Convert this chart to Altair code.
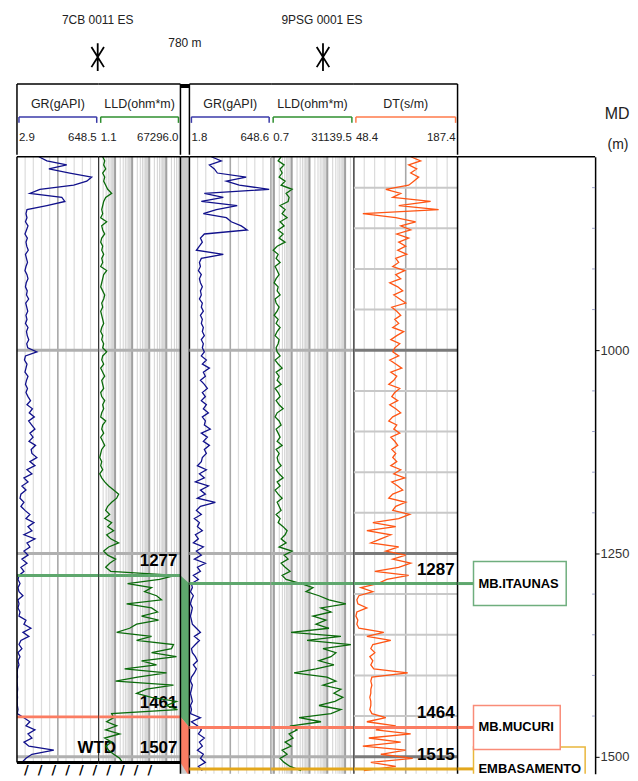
import math
import altair as alt
import pandas as pd

# ---------------- data ----------------
TOP_DEPTH = 762
STEP = 5
BOTTOM_DEPTH = 1521

W1_GR = [176, 239, 396, 255, 420, 593, 554, 451, 184, 105, 357, 381, 239, 82,
         74, 82, 70, 90, 78, 66, 85, 74, 80, 92, 70, 78, 86, 74, 66, 82, 90, 76, 70, 84,
         78, 95, 72, 80, 88, 74, 82, 70, 90, 78, 84, 96, 80, 88,
         160,
         70, 62, 82, 74, 66, 90, 78, 70, 86, 74,
         90, 110, 82, 125, 100, 140, 95, 120, 145, 105, 130, 98, 150, 115,
         121, 160, 105, 145, 82, 121, 58, 90, 42, 74, 34, 27, 58, 34, 66, 105, 74, 137, 90, 121,
         58, 145, 82, 105, 58, 90, 42, 82, 34, 58,
         19, 11, 27, 11, 19, 50, 11, 19, 11, 27, 19, 74, 58, 113, 50, 97, 34, 19, 42, 11, 27, 11, 19,
         7, 5, 7, 4, 6, 8, 5, 7, 5, 6,
         11, 5, 58, 105, 74, 145, 90, 121, 58, 97, 294, 121, 74, 42]

W1_LLD = [1.88, 2.47, 2.15, 2.82, 1.88, 2.47, 2.15, 2.82, 3.69, 6.31, 2.82, 2.15, 1.88,
          1.65, 1.88, 1.44, 3.22, 1.65, 1.88, 2.47, 1.65, 1.44, 1.88, 1.65, 2.15, 1.65, 1.88, 1.44,
          3.22, 2.15, 1.88, 1.65, 1.44, 1.88, 2.47, 2.15, 1.65, 1.88, 1.44, 1.65, 1.88, 2.15, 1.65,
          1.44, 1.88, 1.65, 2.15, 1.88,
          3.22, 1.88, 1.65, 2.15, 1.44, 1.88, 2.47, 1.65, 1.88, 2.15, 1.44, 1.65, 2.47, 1.88, 2.15,
          1.65, 1.44, 2.82, 1.88, 1.65, 2.15, 1.44, 1.88, 2.47, 1.65,
          1.44, 1.26, 1.65, 1.44, 1.88, 1.26, 1.65,
          2.47, 4.22, 8.26, 16.2, 12.4, 6.31, 3.69,
          2.82, 4.83, 2.47, 6.31, 3.69, 8.26, 3.22, 5.52, 16.2, 4.22, 2.15, 3.69, 10.8, 4.83, 2.82, 5.52,
          34500, 4010, 54, 1368, 534, 2680, 5250, 47.5, 1368, 3063, 356, 3508, 182, 71, 12.4, 1368,
          182, 26360, 20140, 1368, 39480, 356, 2680, 36.3, 10280, 208, 10.8, 26360, 698, 182, 1368,
          39480, 10280, 45100, 6.31,
          8.26, 3.22, 12.4, 2.82, 18.5, 2.47, 6.31, 2.82, 4.22, 8.26, 18.5, 27.7]

W2_GR = [175, 254, 160, 199, 223, 451, 294, 396, 633, 120, 270, 96, 380, 215, 112, 294, 333, 412,
         459, 120, 89, 104, 81, 57, 270, 96,
         81, 89, 73, 96, 81, 89, 104, 89, 96, 81, 104, 96, 112, 89, 104, 96, 112, 104, 120, 96, 112, 104,
         120, 96, 136, 104, 160, 112, 128, 89, 120, 144, 104, 128, 96, 136, 112, 152, 104, 128, 120,
         167, 96, 144, 112, 160, 120, 136, 104,
         96, 65, 136, 81, 120, 49, 152, 89, 128, 65, 207, 89,
         57, 96, 41, 81, 65, 104, 49,
         73, 33, 112, 57, 96, 41, 128, 65, 89, 33, 73,
         18, 25, 10, 33, 18, 10, 25, 18, 10, 18, 25, 57, 89, 41, 81, 49, 18, 25, 49, 65, 33, 57, 41,
         18, 10, 25, 18, 10, 18, 25, 10, 18, 10, 89, 18,
         65, 96, 73, 120, 81, 104, 65, 112, 89, 128, 73, 104]

W2_LLD = [2.54, 1.73, 3.74, 2.23, 2.89, 1.96, 4.26, 2.54,
          10.5, 4.84, 7.13,
          6.27, 2.23, 4.26, 2.89, 5.51,
          2.23, 3.74, 1.73, 3.29, 1.96, 4.26,
          1.52, 0.91,
          1.73, 1.33, 2.23, 1.17, 1.52, 1.96, 1.33, 1.03, 1.73, 1.52, 2.23, 1.17, 1.33, 1.96, 1.52,
          1.03, 1.73, 1.33, 2.23, 1.52, 1.17, 1.96, 1.73, 1.33,
          1.52, 2.23, 1.17, 1.73, 2.89, 1.33, 1.96, 1.52, 2.54, 1.17, 1.73, 2.23, 1.33, 1.96, 3.29,
          1.52, 1.17, 1.96, 2.54, 1.33, 1.73, 2.23, 1.52, 2.89, 1.33, 1.96, 1.52,
          1.73, 2.54, 1.33, 1.96, 3.29, 1.52, 2.23, 1.17, 1.73, 2.89, 1.52, 1.96, 2.54, 1.33, 2.23,
          1.73, 3.29, 5.51,
          4.26, 2.54, 4.84, 1.96, 10.5, 3.74, 6.27, 2.54, 4.26, 8.11, 2.89, 4.84,
          33.5, 157, 64, 341, 1239, 11090, 442, 1603, 157, 841, 232, 1239, 9.2, 5820, 73, 21100, 571,
          3055, 1603, 341, 2360, 232, 13.6, 957, 3055, 571, 5820, 2360, 7530, 2690, 341, 5820, 1603,
          25.9, 442,
          9.22, 20.0, 7.13, 11.9, 4.26, 9.22, 2.89, 5.51, 2.23, 3.74, 8.11, 33.5]

W2_DT = [124.6, 137.9, 121.9, 132.6, 124.6, 135.3, 128.6, 121.9, 91.2, 111.2, 100.5, 151.3, 108.5,
         162.0, 60.4, 104.5, 131.3, 111.2, 124.6, 105.9, 121.9, 108.5, 117.9, 107.2, 119.3, 104.5,
         108.5, 100.5, 116.6, 104.5, 111.2, 96.5, 107.2, 113.9, 101.9, 109.9, 117.9, 99.2, 105.9,
         111.2, 103.2, 108.5, 100.5, 115.2, 105.9, 97.9, 109.9, 103.2,
         100.5, 108.5, 96.5, 104.5, 112.6, 97.9, 105.9, 101.9, 95.2, 109.9, 103.2, 99.2, 107.2, 96.5,
         104.5, 111.2, 100.5, 95.2, 105.9, 101.9, 109.9, 97.9, 103.2, 107.2, 99.2, 104.5, 100.5,
         105.9, 97.9, 111.2, 101.9, 116.6, 99.2, 107.2, 113.9, 100.5,
         95.2, 117.9, 104.5, 100.5, 123.2, 108.5,
         73.8, 104.5, 65.8, 97.9, 84.5,
         71.1, 108.5, 91.2,
         117.9, 100.5, 124.6, 108.5,
         76.5, 121.9, 92.5,
         80.5, 57.8, 73.8, 55.1, 52.4, 53.7, 65.8, 52.4, 51.1, 53.7, 52.4, 55.1, 88.5, 65.8, 97.9,
         73.8, 71.1, 76.5, 69.8, 73.8, 71.1, 75.1, 120.6, 72.5, 71.1, 72.5, 71.1, 71.1, 69.8, 71.1,
         71.1, 69.8, 72.5, 91.2, 65.8,
         104.5, 77.8, 124.6, 68.4, 111.2, 60.4, 117.9, 84.5, 127.3, 71.1, 104.5, 61.8]

RANGES = {"w1_gr": (2.9, 648.5), "w1_lld": (1.1, 67296.0), "w2_gr": (1.8, 648.6),
          "w2_lld": (0.7, 31139.5), "w2_dt": (48.4, 187.4)}

WELL_NAMES = ["7CB  0011  ES", "9PSG 0001  ES"]
DISTANCE_TEXT = "780 m"
W1_MARK_DEPTH = [1277, 1451]
W1_MARK_TEXT = ["1277", "1461"]
W1_TD = 1507
W2_MARK_DEPTH = [1287, 1464, 1515]
W2_MARK_TEXT = ["1287", "1464", "1515"]
W2_ZONE_BOTTOM = 1525
MARK_NAMES = ["MB.ITAUNAS", "MB.MUCURI", "EMBASAMENTO"]
MD_MAJOR = [1000, 1250, 1500]
MD_MINOR = [800, 850, 900, 950, 1050, 1100, 1150, 1200, 1300, 1350, 1400, 1450]

# ---------------- style ----------------
FONT = "Liberation Sans, Arial, sans-serif"
C_GR, C_LLD, C_DT = "#12128c", "#0b6b0b", "#ff5514"
C_GR_BR, C_LLD_BR, C_DT_BR = "#3a3aa8", "#2f8f2f", "#ff7a4a"
MARK_COLORS = ["#5ea76d", "#fb7d63", "#e3a71c"]
BOX_COLORS = ["#6fae7e", "#f98c78", "#e9b73c"]
BOX_X2 = [109, 103, 128]
BOX_HALF_M = 27
H = 619
HH = 146
STAR = "M0,-1L0,1M-0.45,-0.72L0.45,0.72M-0.45,0.72L0.45,-0.72"

YS = alt.Scale(domain=[TOP_DEPTH, BOTTOM_DEPTH], reverse=True, nice=False, zero=False)
ONE = pd.DataFrame({"k": [0]})


def ydat(v, ax=None):
    return alt.YDatum(v, type="quantitative", scale=YS, axis=ax)


def vgrid_df(lo, hi, xtype):
    rows = []
    if xtype == "linear":
        for k in range(1, 10):
            rows.append({"v": lo + (hi - lo) * k / 10,
                         "c": "#a8a8a8" if k == 5 else "#dcdcdc",
                         "w": 1.6 if k == 5 else 1.2})
    else:
        for e in range(math.floor(math.log10(lo)), math.ceil(math.log10(hi)) + 1):
            for m in range(1, 10):
                v = m * 10 ** e
                if lo < v < hi:
                    rows.append({"v": v, "c": "#a0a0a0" if m == 1 else "#d6d6d6",
                                 "w": 2 if m == 1 else 1.1})
    return pd.DataFrame(rows)


HG_STD = pd.DataFrame({"depth": MD_MAJOR, "c": ["#b0b0b0"] * 3, "w": [3] * 3})
HG_DT = pd.DataFrame({"depth": MD_MINOR + MD_MAJOR,
                      "c": ["#c8c8c8"] * len(MD_MINOR) + ["#7a7a7a"] * 3,
                      "w": [2] * len(MD_MINOR) + [3] * 3})
W1_CORR = pd.DataFrame({"depth": W1_MARK_DEPTH, "c": MARK_COLORS[:2]})
W2_CORR = pd.DataFrame({"depth": W2_MARK_DEPTH, "c": MARK_COLORS})


def vline(x, y0, y1, color="black", w=1.5):
    return alt.Chart(ONE).mark_rule(color=color, strokeWidth=w).encode(
        x=alt.value(x), y=ydat(y0), y2=alt.Y2Datum(y1))


def hline(depth, width, color="black", w=1.5):
    return alt.Chart(ONE).mark_rule(color=color, strokeWidth=w).encode(
        y=ydat(depth), x=alt.value(0), x2=alt.value(width))


def body(key, values, xtype, width, color, bottom, hgrid, corr, labels=None, under=(), extra=()):
    lo, hi = RANGES[key]
    XS = alt.Scale(type=xtype, domain=[lo, hi], nice=False, zero=False)
    curve = pd.DataFrame({"depth": [TOP_DEPTH + STEP * i for i in range(len(values))], "v": values})
    layers = [
        alt.Chart(vgrid_df(lo, hi, xtype)).mark_rule().encode(
            x=alt.X("v:Q", scale=XS, axis=None), y=ydat(TOP_DEPTH), y2=alt.Y2Datum(bottom),
            color=alt.Color("c:N", scale=None), strokeWidth=alt.StrokeWidth("w:Q", scale=None)),
        alt.Chart(hgrid).mark_rule().encode(
            y=alt.Y("depth:Q", scale=YS, axis=None), x=alt.value(0), x2=alt.value(width),
            color=alt.Color("c:N", scale=None), strokeWidth=alt.StrokeWidth("w:Q", scale=None)),
    ]
    if labels is not None:
        layers.append(alt.Chart(labels).mark_text(
            align="right", dy=-14, font=FONT, fontSize=17, fontWeight="bold", color="black").encode(
            x=alt.value(width - 3), y=alt.Y("depth:Q", scale=YS, axis=None), text="t:N"))
    layers.extend(under)
    layers.append(alt.Chart(curve).mark_line(
        color=color, strokeWidth=1.3, interpolate="linear", clip=True).encode(
        x=alt.X("v:Q", scale=XS, axis=None), y=alt.Y("depth:Q", scale=YS, axis=None),
        order="depth:Q"))
    layers.append(alt.Chart(corr).mark_rule(strokeWidth=3).encode(
        y=alt.Y("depth:Q", scale=YS, axis=None), x=alt.value(0), x2=alt.value(width),
        color=alt.Color("c:N", scale=None)))
    layers.append(hline(TOP_DEPTH, width))
    layers.extend(extra)
    return alt.layer(*layers).properties(width=width, height=H)


def header(key, title, xtype, width, color, extra=()):
    lo, hi = RANGES[key]
    XS = alt.Scale(type=xtype, domain=[lo, hi], range=[2, width - 2], nice=False, zero=False)
    b = alt.Chart(pd.DataFrame({"lo": [lo], "hi": [hi]}))
    layers = [
        b.mark_rule(color=color, strokeWidth=1.5).encode(
            x=alt.X("lo:Q", scale=XS, axis=None), x2="hi:Q", y=alt.value(108)),
        b.mark_rule(color=color, strokeWidth=1.5).encode(
            x=alt.X("lo:Q", scale=XS, axis=None), y=alt.value(108), y2=alt.value(114)),
        b.mark_rule(color=color, strokeWidth=1.5).encode(
            x=alt.X("hi:Q", scale=XS, axis=None), y=alt.value(108), y2=alt.value(114)),
        b.mark_text(align="left", font=FONT, fontSize=11.5, color="#222").encode(
            x=alt.X("lo:Q", scale=XS, axis=None), y=alt.value(129),
            text=alt.Text("lo:Q", format=".1f")),
        b.mark_text(align="right", font=FONT, fontSize=11.5, color="#222").encode(
            x=alt.X("hi:Q", scale=XS, axis=None), y=alt.value(129),
            text=alt.Text("hi:Q", format=".1f")),
        alt.Chart(ONE).mark_text(font=FONT, fontSize=12.5, color="#222").encode(
            x=alt.value(width / 2), y=alt.value(95), text=alt.value(title)),
        alt.Chart(ONE).mark_rule(color="black", strokeWidth=1.5).encode(
            x=alt.value(0), x2=alt.value(width), y=alt.value(75)),
    ]
    layers.extend(extra)
    return alt.layer(*layers).properties(width=width, height=HH)


def htext(text, x, y, size=11, **kw):
    return alt.Chart(ONE).mark_text(font=FONT, fontSize=size, color="#222", **kw).encode(
        x=alt.value(x), y=alt.value(y), text=alt.value(text))


def star(x, y):
    return alt.Chart(ONE).mark_point(shape=STAR, size=784, filled=False, color="black",
                                     strokeWidth=1.8, opacity=1).encode(
        x=alt.value(x), y=alt.value(y))


def hvrule(x, y0=75, y1=HH, w=1.5):
    return alt.Chart(ONE).mark_rule(color="black", strokeWidth=w).encode(
        x=alt.value(x), y=alt.value(y0), y2=alt.value(y1))


# ---------------- header row ----------------
h_w1gr = header("w1_gr", "GR(gAPI)", "linear", 82, C_GR_BR,
                extra=[hvrule(0), htext(WELL_NAMES[0], 81, 11, size=12), star(81, 48)])
h_w1lld = header("w1_lld", "LLD(ohm*m)", "log", 82, C_LLD_BR)
h_gap = alt.layer(
    hvrule(0), hvrule(9),
    alt.Chart(ONE).mark_rect(color="black").encode(
        x=alt.value(0), x2=alt.value(9), y=alt.value(75), y2=alt.value(79)),
    htext(DISTANCE_TEXT, 4.5, 34, size=12),
).properties(width=9, height=HH)
h_w2gr = header("w2_gr", "GR(gAPI)", "linear", 82, C_GR_BR)
h_w2lld = header("w2_lld", "LLD(ohm*m)", "log", 83, C_LLD_BR,
                 extra=[htext(WELL_NAMES[1], 51, 11, size=12), star(52, 48)])
h_w2dt = header("w2_dt", "DT(s/m)", "linear", 104, C_DT_BR, extra=[hvrule(104)])
h_right = alt.layer(
    htext("MD", 160, 105, size=16), htext("(m)", 161, 136, size=14),
).properties(width=138, height=HH)

header_row = alt.hconcat(h_w1gr, h_w1lld, h_gap, h_w2gr, h_w2lld, h_w2dt, h_right,
                         spacing=0, bounds="flush")

# ---------------- body row ----------------
w1_labels = pd.DataFrame({"depth": W1_MARK_DEPTH + [W1_TD], "t": W1_MARK_TEXT + [str(W1_TD)]})
w2_labels = pd.DataFrame({"depth": W2_MARK_DEPTH, "t": W2_MARK_TEXT})

hatch = "/\u00a0\u00a0" * 9 + "/"
b_w1gr = body("w1_gr", W1_GR, "linear", 82, C_GR, W1_TD, HG_STD, W1_CORR, extra=[
    vline(0, TOP_DEPTH, W1_TD), vline(82, TOP_DEPTH, W1_TD, w=1),
    hline(W1_TD, 82, w=3),
    alt.Chart(ONE).mark_text(font="DejaVu Sans", fontSize=13, fontWeight="bold", color="black",
                             align="left", dy=8).encode(
        x=alt.value(7), y=ydat(W1_TD), text=alt.value(hatch)),
])
wtd = alt.Chart(ONE).mark_text(font=FONT, fontSize=17, fontWeight="bold", color="black",
                               dy=-14).encode(x=alt.value(-2), y=ydat(W1_TD), text=alt.value("WTD"))
b_w1lld = body("w1_lld", W1_LLD, "log", 82, C_LLD, W1_TD, HG_STD, W1_CORR, labels=w1_labels,
               under=[wtd], extra=[hline(W1_TD, 82, w=3)])

XG = alt.Scale(domain=[0, 1], nice=False, zero=False)
green_zone = pd.DataFrame({"side": [0, 1], "top": [W1_MARK_DEPTH[0], W2_MARK_DEPTH[0]],
                           "bot": [W1_MARK_DEPTH[1], W2_MARK_DEPTH[1]]})
salmon_zone = pd.DataFrame({"side": [0, 1], "top": [W1_MARK_DEPTH[1], W2_MARK_DEPTH[1]],
                            "bot": [W1_TD, W2_ZONE_BOTTOM]})
b_gap = alt.layer(
    alt.Chart(ONE).mark_rect(color="#cbcbcb").encode(
        x=alt.value(0), x2=alt.value(9), y=ydat(TOP_DEPTH), y2=alt.Y2Datum(BOTTOM_DEPTH)),
    alt.Chart(green_zone).mark_area(color=MARK_COLORS[0], opacity=1, clip=True).encode(
        x=alt.X("side:Q", scale=XG, axis=None), y=alt.Y("top:Q", scale=YS, axis=None), y2="bot:Q"),
    alt.Chart(salmon_zone).mark_area(color=MARK_COLORS[1], opacity=1, clip=True).encode(
        x=alt.X("side:Q", scale=XG, axis=None), y=alt.Y("top:Q", scale=YS, axis=None), y2="bot:Q"),
    vline(0, TOP_DEPTH, BOTTOM_DEPTH), vline(9, TOP_DEPTH, BOTTOM_DEPTH),
    hline(TOP_DEPTH, 9),
).properties(width=9, height=H)

b_w2gr = body("w2_gr", W2_GR, "linear", 82, C_GR, BOTTOM_DEPTH, HG_STD, W2_CORR,
              extra=[vline(82, TOP_DEPTH, BOTTOM_DEPTH, color="#555")])
b_w2lld = body("w2_lld", W2_LLD, "log", 83, C_LLD, BOTTOM_DEPTH, HG_STD, W2_CORR,
               extra=[vline(83, TOP_DEPTH, BOTTOM_DEPTH, color="#444")])
b_w2dt = body("w2_dt", W2_DT, "linear", 104, C_DT, BOTTOM_DEPTH, HG_DT, W2_CORR, labels=w2_labels,
              extra=[vline(104, TOP_DEPTH, BOTTOM_DEPTH)])

AX = alt.Axis(orient="right", values=MD_MAJOR, format="d", title=None, grid=False,
              domainColor="black", domainWidth=1.5, tickColor="black", tickSize=4, tickWidth=1,
              labelFont=FONT, labelFontSize=13, labelColor="#333", labelPadding=1)
marks = pd.DataFrame({"name": MARK_NAMES, "depth": W2_MARK_DEPTH, "c": MARK_COLORS})
right_layers = [
    alt.Chart(ONE).mark_rule(color="black", strokeWidth=1.5).encode(
        y=ydat(TOP_DEPTH, AX), x=alt.value(0), x2=alt.value(138)),
    alt.Chart(pd.DataFrame({"depth": MD_MINOR})).mark_rule(color="#9aa0c8", strokeWidth=1).encode(
        y=alt.Y("depth:Q", scale=YS, axis=AX), x=alt.value(135), x2=alt.value(138)),
    alt.Chart(marks).mark_rule(strokeWidth=3).encode(
        y=alt.Y("depth:Q", scale=YS, axis=AX), x=alt.value(0), x2=alt.value(16),
        color=alt.Color("c:N", scale=None)),
]
for i in [2, 0, 1]:
    one = marks.iloc[[i]]
    right_layers.append(
        alt.Chart(one).transform_calculate(
            top=f"datum.depth - {BOX_HALF_M}",
            bot=f"datum.depth + {BOX_HALF_M}"
        ).mark_rect(fill="white", stroke=BOX_COLORS[i], strokeWidth=1.5, clip=True).encode(
            x=alt.value(16), x2=alt.value(BOX_X2[i]),
            y=alt.Y("top:Q", scale=YS, axis=AX), y2="bot:Q"))
    right_layers.append(
        alt.Chart(one).mark_text(align="left", font=FONT, fontSize=13, fontWeight="bold",
                                 color="black").encode(
            x=alt.value(21), y=alt.Y("depth:Q", scale=YS, axis=AX), text="name:N"))
b_right = alt.layer(*right_layers).properties(width=138, height=H)

body_row = alt.hconcat(b_w1gr, b_w1lld, b_gap, b_w2gr, b_w2lld, b_w2dt, b_right,
                       spacing=0, bounds="flush")

chart = alt.vconcat(header_row, body_row, spacing=0).properties(
    padding={"left": 7, "top": 0, "right": 0, "bottom": 0}
).configure_view(stroke=None)

chart.save("out.html", embed_options={"renderer": "svg", "actions": False})
